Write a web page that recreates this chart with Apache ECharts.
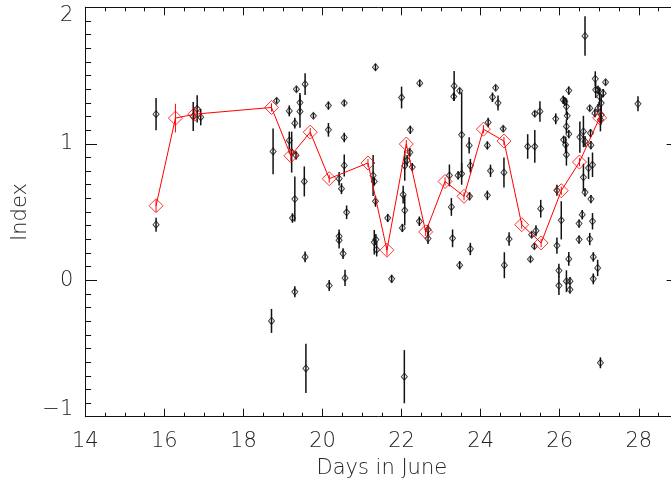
<!DOCTYPE html>
<html>
<head>
<meta charset="utf-8">
<script src="https://cdn.jsdelivr.net/npm/echarts@6/dist/echarts.min.js"></script>
<style>
html,body{margin:0;padding:0;background:#fff;}
#chart{width:671px;height:487px;}
</style>
</head>
<body>
<div id="chart"></div>
<script>
// Individual measurements: day in June, index value, error (half-length)
const blackDay = [
15.79,15.79,16.73,16.83,16.92,18.75,18.71,18.84,
19.16,19.16,19.22,19.34,19.30,19.33,19.30,19.24,19.30,19.43,19.43,19.56,19.54,19.56,19.58,19.77,
20.15,20.15,20.17,20.55,20.55,20.55,20.42,20.48,20.61,20.42,20.42,20.52,20.57,
21.34,21.28,21.31,21.34,21.31,21.35,21.37,21.65,21.75,
22.00,22.04,22.08,22.02,22.07,22.08,22.14,22.22,22.21,22.27,22.45,22.46,22.67,22.67,
23.21,23.26,23.29,23.33,23.32,23.47,23.47,23.43,23.52,23.52,23.71,23.74,23.72,23.74,
24.19,24.17,24.25,24.17,24.30,24.38,24.44,24.57,24.59,24.60,24.72,
25.19,25.37,25.37,25.50,25.52,25.26,25.29,25.40,25.36,25.90,25.93,25.93,25.98,25.98,
26.04,26.09,26.13,26.10,26.17,26.19,26.17,26.15,26.17,26.23,26.23,26.23,26.17,26.26,26.26,
26.64,26.51,26.60,26.64,26.76,26.73,26.83,26.60,26.64,26.79,26.57,26.49,26.83,26.49,26.76,26.85,26.85,26.96,27.03,
26.90,26.91,26.97,27.01,27.10,27.16,27.05,26.97,27.05,27.03,26.89,26.78,26.79,
27.98
];
const blackVal = [
1.217,0.407,1.200,1.256,1.195,0.944,-0.298,1.315,
1.241,1.024,0.939,1.400,1.151,0.915,0.595,0.456,-0.085,1.302,1.237,1.437,0.724,0.171,-0.646,1.205,
1.280,1.102,-0.039,1.298,1.046,0.841,0.744,0.671,0.498,0.322,0.293,0.195,0.017,
1.561,0.768,0.724,0.578,0.278,0.298,0.224,0.456,0.010,
1.339,0.627,0.512,0.383,-0.707,0.839,0.878,1.102,0.937,0.829,0.432,1.444,0.371,0.305,
0.768,0.537,0.307,1.424,1.346,1.388,0.110,0.768,1.066,0.780,0.988,0.839,0.615,0.229,
1.156,0.988,0.802,0.622,1.341,1.410,1.298,1.110,0.790,0.110,0.302,
0.980,0.980,1.220,1.237,0.524,0.154,0.334,0.363,0.249,1.183,0.254,0.659,0.071,-0.039,
0.439,1.322,1.310,1.029,1.273,1.205,1.127,0.993,0.920,1.390,1.071,0.156,-0.007,-0.007,-0.068,
1.790,1.049,1.090,1.017,1.261,0.822,0.846,0.754,0.644,0.595,0.480,0.415,0.432,0.298,0.302,0.171,0.010,0.090,-0.605,
1.476,1.395,1.395,1.346,1.371,1.451,1.298,1.261,1.212,1.176,1.224,1.078,0.990,
1.293
];
const blackErr = [
0.118,0.051,0.106,0.100,0.060,0.168,0.088,0.020,
0.040,0.065,0.150,0.020,0.040,0.030,0.165,0.035,0.040,0.070,0.120,0.080,0.110,0.040,0.180,0.020,
0.030,0.050,0.040,0.020,0.035,0.080,0.050,0.040,0.050,0.050,0.060,0.040,0.060,
0.025,0.150,0.030,0.040,0.090,0.040,0.050,0.030,0.030,
0.080,0.065,0.110,0.030,0.195,0.110,0.040,0.030,0.030,0.030,0.035,0.025,0.035,0.040,
0.080,0.065,0.065,0.110,0.030,0.020,0.030,0.030,0.310,0.080,0.060,0.050,0.030,0.045,
0.035,0.030,0.045,0.035,0.035,0.020,0.055,0.020,0.110,0.095,0.050,
0.090,0.120,0.020,0.075,0.065,0.020,0.020,0.040,0.020,0.040,0.060,0.040,0.050,0.070,
0.140,0.030,0.030,0.030,0.060,0.030,0.050,0.060,0.080,0.030,0.030,0.050,0.080,0.030,0.030,
0.145,0.115,0.115,0.040,0.020,0.080,0.090,0.100,0.030,0.030,0.035,0.030,0.060,0.030,0.045,0.035,0.040,0.060,0.040,
0.055,0.060,0.030,0.065,0.030,0.020,0.060,0.030,0.070,0.085,0.030,0.030,0.030,
0.055
];
// Binned averages (red)
const redDay = [15.79,16.28,16.77,18.71,19.20,19.69,20.17,21.15,21.63,22.12,22.61,23.10,23.58,24.07,24.59,25.04,25.53,26.04,26.50,27.01];
const redVal = [0.546,1.188,1.217,1.266,0.912,1.085,0.744,0.859,0.220,0.998,0.354,0.724,0.615,1.107,1.020,0.407,0.273,0.656,0.866,1.190];
const redErr = [0.045,0.105,0.040,0.030,0.040,0.030,0.030,0.030,0.040,0.030,0.030,0.030,0.030,0.030,0.030,0.030,0.030,0.030,0.030,0.030];
// Axis settings
const xTickLabels = [14,16,18,20,22,24,26,28];
const yTickLabels = [-1,0,1,2];

const FONT = 'DejaVu Sans';
const chart = echarts.init(document.getElementById('chart'), null, {renderer: 'canvas'});

function errRender(color, width) {
  return function (params, api) {
    const x = api.value(0), lo = api.value(1), hi = api.value(2);
    const p1 = api.coord([x, lo]);
    const p2 = api.coord([x, hi]);
    return {type: 'line', shape: {x1: p1[0], y1: p1[1], x2: p2[0], y2: p2[1]},
            style: {stroke: color, lineWidth: width}};
  };
}

const axisLineStyle = {show: true, onZero: false, lineStyle: {color: '#111', width: 1}};
const labelStyle = {color: '#222', fontFamily: FONT, fontSize: 21, fontWeight: 200};

const xBase = {
  type: 'value', min: xTickLabels[0], max: 29, interval: 2,
  axisLine: axisLineStyle,
  axisTick: {show: true, inside: true, length: 8, lineStyle: {color: '#111'}},
  minorTick: {show: true, splitNumber: 4, length: 4, lineStyle: {color: '#111'}},
  splitLine: {show: false}, minorSplitLine: {show: false}
};
const yBase = {
  type: 'value', min: yTickLabels[0], max: yTickLabels[yTickLabels.length - 1], interval: 1,
  axisLine: axisLineStyle,
  axisTick: {show: true, inside: true, length: 11.7, lineStyle: {color: '#111'}},
  minorTick: {show: true, splitNumber: 10, length: 5.8, lineStyle: {color: '#111'}},
  splitLine: {show: false}, minorSplitLine: {show: false}
};

chart.setOption({
  animation: false,
  backgroundColor: '#fff',
  grid: {left: 85.3, width: 593, top: 7.3, height: 409.4, containLabel: false, outerBoundsMode: 'none'},
  xAxis: [
    Object.assign({}, xBase, {
      position: 'bottom',
      axisLabel: Object.assign({}, labelStyle, {margin: 14, showMaxLabel: false,
        formatter: v => xTickLabels.indexOf(v) >= 0 ? String(v) : ''}),
      name: 'Days in June', nameLocation: 'middle', nameGap: 41,
      nameTextStyle: {color: '#222', fontFamily: FONT, fontSize: 21, fontWeight: 200}
    }),
    Object.assign({}, xBase, {position: 'top', axisLabel: {show: false}})
  ],
  yAxis: [
    Object.assign({}, yBase, {
      position: 'left',
      axisLabel: Object.assign({}, labelStyle, {margin: 12,
        formatter: v => v === 2 ? '{top|2}' : (v === -1 ? '{bot|\u22121}' : String(v)),
        rich: {
          top: {padding: [16, 0, 0, 0], color: '#222', fontFamily: FONT, fontSize: 21, fontWeight: 200},
          bot: {padding: [0, 0, 14, 0], color: '#222', fontFamily: FONT, fontSize: 21, fontWeight: 200}
        }
      }),
      name: 'Index', nameLocation: 'middle', nameGap: 54,
      nameTextStyle: {color: '#222', fontFamily: FONT, fontSize: 21, fontWeight: 200}
    }),
    Object.assign({}, yBase, {position: 'right', axisLabel: {show: false}})
  ],
  series: [
    {
      type: 'custom', xAxisIndex: 0, yAxisIndex: 0,
      renderItem: errRender('#111', 1.5),
      encode: {x: 0, y: [1, 2]},
      data: blackDay.map((d, i) => [d, blackVal[i] - blackErr[i], blackVal[i] + blackErr[i]]),
      z: 2
    },
    {
      type: 'scatter', xAxisIndex: 0, yAxisIndex: 0,
      symbol: 'diamond', symbolSize: [6, 7],
      itemStyle: {color: 'rgba(0,0,0,0)', borderColor: '#111', borderWidth: 1},
      data: blackDay.map((d, i) => [d, blackVal[i]]),
      z: 3
    },
    {
      type: 'line', xAxisIndex: 0, yAxisIndex: 0,
      showSymbol: false, symbol: 'none',
      lineStyle: {color: '#ff0000', width: 1},
      data: redDay.map((d, i) => [d, redVal[i]]),
      z: 4
    },
    {
      type: 'custom', xAxisIndex: 0, yAxisIndex: 0,
      renderItem: errRender('#ff0000', 1),
      encode: {x: 0, y: [1, 2]},
      data: redDay.map((d, i) => [d, redVal[i] - redErr[i], redVal[i] + redErr[i]]),
      z: 4
    },
    {
      type: 'scatter', xAxisIndex: 0, yAxisIndex: 0,
      symbol: 'diamond', symbolSize: 14,
      itemStyle: {color: 'rgba(0,0,0,0)', borderColor: '#ff0000', borderWidth: 1},
      data: redDay.map((d, i) => [d, redVal[i]]),
      z: 5
    }
  ]
});
</script>
</body>
</html>
